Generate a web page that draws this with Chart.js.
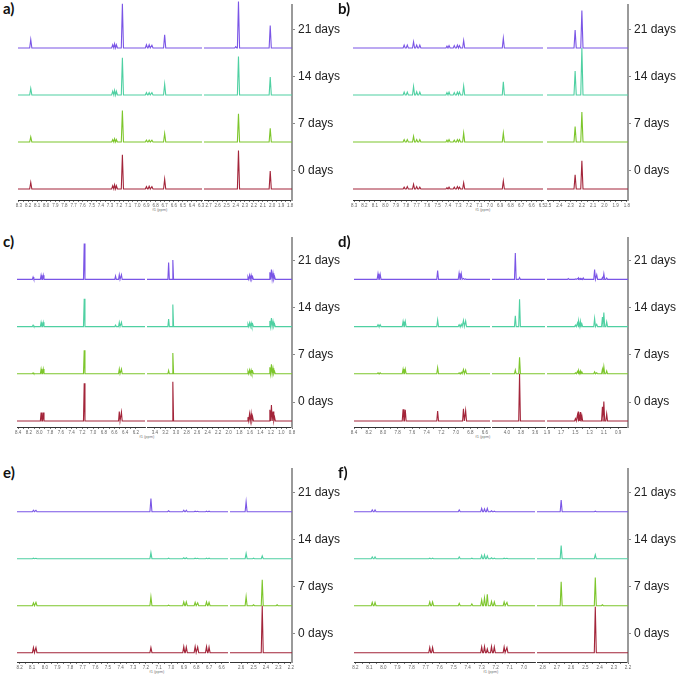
<!DOCTYPE html>
<html>
<head>
<meta charset="utf-8">
<script src="https://cdn.jsdelivr.net/npm/chart.js@4.4.1/dist/chart.umd.min.js"></script>
<style>
  body { margin: 0; background: #fff; width: 676px; height: 677px; position: relative; overflow: hidden; font-family: 'Liberation Sans', Arial, sans-serif; }
  canvas { position: absolute; }
  .lbl { position: absolute; font: bold 15px Lato, 'Open Sans', sans-serif; color: #111; }
  .f1 { position: absolute; font-size: 4px; color: #777; transform: translateX(-50%); white-space: nowrap; }
</style>
</head>
<body>
<script>
// series names, bottom trace first
const days = ['0 days', '7 days', '14 days', '21 days'];

// a) peak positions (ppm) and peak heights per sample, in units of trace spacing
const aPeaks = [8.17, 7.27, 7.25, 7.23, 7.164, 6.90, 6.87, 6.84, 6.70, 2.40, 2.37, 2.02];
const aDay0  = [0.14, 0.07, 0.09, 0.07, 0.73, 0.05, 0.06, 0.05, 0.21, 0.00, 0.82, 0.38];
const aDay7  = [0.11, 0.05, 0.07, 0.05, 0.67, 0.04, 0.04, 0.04, 0.18, 0.00, 0.60, 0.29];
const aDay14 = [0.14, 0.08, 0.10, 0.08, 0.79, 0.05, 0.05, 0.05, 0.23, 0.00, 0.82, 0.38];
const aDay21 = [0.18, 0.07, 0.09, 0.07, 0.94, 0.07, 0.07, 0.06, 0.28, 0.03, 0.99, 0.48];

// b)
const bPeaks = [7.82, 7.79, 7.73, 7.70, 7.67, 7.41, 7.39, 7.34, 7.31, 7.29, 7.25, 6.87, 2.26, 2.20];
const bDay0  = [0.04, 0.05, 0.10, 0.05, 0.04, 0.03, 0.04, 0.04, 0.05, 0.04, 0.13, 0.17, 0.30, 0.60];
const bDay7  = [0.05, 0.05, 0.12, 0.05, 0.05, 0.04, 0.05, 0.04, 0.05, 0.05, 0.19, 0.19, 0.33, 0.64];
const bDay14 = [0.06, 0.06, 0.18, 0.07, 0.06, 0.05, 0.06, 0.05, 0.06, 0.06, 0.19, 0.28, 0.51, 1.00];
const bDay21 = [0.06, 0.06, 0.13, 0.06, 0.06, 0.04, 0.05, 0.05, 0.06, 0.05, 0.16, 0.21, 0.38, 0.80];

// c)
const cPeaks = [8.12, 7.97, 7.93, 7.165, 6.58, 6.51, 6.47, 3.14, 3.06, 1.635, 1.605, 1.575, 1.545, 1.22, 1.19, 1.16, 1.13];
const cDay0  = [0.00, 0.18, 0.18, 0.80, 0.00, 0.20, 0.19, 0.00, 0.83, 0.08, 0.15, 0.16, 0.08, 0.24, 0.34, 0.20, 0.08];
const cDay7  = [0.02, 0.10, 0.10, 0.50, 0.00, 0.10, 0.10, 0.07, 0.44, 0.05, 0.08, 0.08, 0.05, 0.14, 0.20, 0.12, 0.05];
const cDay14 = [0.03, 0.09, 0.09, 0.59, 0.03, 0.09, 0.09, 0.16, 0.47, 0.05, 0.08, 0.08, 0.05, 0.12, 0.18, 0.11, 0.05];
const cDay21 = [0.05, 0.09, 0.09, 0.76, 0.07, 0.10, 0.10, 0.36, 0.41, 0.05, 0.09, 0.09, 0.05, 0.15, 0.21, 0.13, 0.06];

// d)
const dPeaks = [8.07, 8.04, 7.725, 7.695, 7.25, 6.955, 6.925, 6.895, 6.865, 3.88, 3.82, 1.60, 1.50, 1.47, 1.45, 1.43, 1.41, 1.39, 1.23, 1.20, 1.12, 1.10, 1.06];
const dDay0  = [0.00, 0.00, 0.25, 0.24, 0.21, 0.00, 0.00, 0.26, 0.22, 0.00, 1.00, 0.00, 0.05, 0.14, 0.20, 0.19, 0.12, 0.00, 0.00, 0.00, 0.30, 0.41, 0.15];
const dDay7  = [0.02, 0.02, 0.10, 0.10, 0.13, 0.02, 0.03, 0.09, 0.08, 0.08, 0.35, 0.00, 0.02, 0.05, 0.07, 0.06, 0.04, 0.00, 0.04, 0.02, 0.10, 0.15, 0.06];
const dDay14 = [0.04, 0.04, 0.11, 0.11, 0.14, 0.04, 0.05, 0.13, 0.12, 0.23, 0.58, 0.00, 0.03, 0.08, 0.12, 0.11, 0.06, 0.00, 0.17, 0.05, 0.20, 0.30, 0.10];
const dDay21 = [0.12, 0.11, 0.00, 0.00, 0.19, 0.13, 0.12, 0.02, 0.01, 0.56, 0.04, 0.02, 0.01, 0.02, 0.03, 0.02, 0.02, 0.03, 0.21, 0.10, 0.04, 0.12, 0.03];

// e)
const ePeaks = [8.09, 8.07, 7.16, 7.02, 6.90, 6.88, 6.81, 6.79, 6.72, 6.70, 2.56, 2.50, 2.43, 2.31];
const eDay0  = [0.11, 0.11, 0.11, 0.00, 0.13, 0.12, 0.13, 0.12, 0.13, 0.12, 0.00, 0.00, 1.00, 0.00];
const eDay7  = [0.06, 0.07, 0.19, 0.01, 0.08, 0.08, 0.07, 0.06, 0.08, 0.07, 0.19, 0.02, 0.55, 0.02];
const eDay14 = [0.01, 0.01, 0.13, 0.01, 0.02, 0.02, 0.01, 0.01, 0.01, 0.01, 0.11, 0.01, 0.06, 0.00];
const eDay21 = [0.03, 0.03, 0.28, 0.02, 0.03, 0.03, 0.01, 0.01, 0.01, 0.01, 0.21, 0.00, 0.00, 0.00];

// f)
const fPeaks = [8.08, 8.06, 7.67, 7.65, 7.46, 7.37, 7.30, 7.28, 7.26, 7.23, 7.21, 7.14, 7.12, 2.67, 2.43, 2.38];
const fDay0  = [0.00, 0.00, 0.11, 0.11, 0.00, 0.00, 0.12, 0.13, 0.08, 0.13, 0.12, 0.12, 0.11, 0.00, 0.98, 0.00];
const fDay7  = [0.07, 0.07, 0.08, 0.08, 0.05, 0.04, 0.12, 0.17, 0.24, 0.09, 0.08, 0.08, 0.07, 0.51, 0.60, 0.02];
const fDay14 = [0.04, 0.04, 0.01, 0.01, 0.04, 0.01, 0.07, 0.08, 0.06, 0.02, 0.01, 0.01, 0.01, 0.28, 0.085, 0.00];
const fDay21 = [0.04, 0.04, 0.00, 0.00, 0.04, 0.00, 0.07, 0.06, 0.07, 0.02, 0.01, 0.00, 0.00, 0.25, 0.01, 0.00];

// tick labels of every axis piece (ppm)
const aTicks1 = [8.3, 8.2, 8.1, 8.0, 7.9, 7.8, 7.7, 7.6, 7.5, 7.4, 7.3, 7.2, 7.1, 7.0, 6.9, 6.8, 6.7, 6.6, 6.5, 6.4, 6.3];
const aTicks2 = [2.7, 2.6, 2.5, 2.4, 2.3, 2.2, 2.1, 2.0, 1.9, 1.8];
const bTicks1 = [8.3, 8.2, 8.1, 8.0, 7.9, 7.8, 7.7, 7.6, 7.5, 7.4, 7.3, 7.2, 7.1, 7.0, 6.9, 6.8, 6.7, 6.6, 6.5];
const bTicks2 = [2.5, 2.4, 2.3, 2.2, 2.1, 2.0, 1.9, 1.8];
const cTicks1 = [8.4, 8.2, 8.0, 7.8, 7.6, 7.4, 7.2, 7.0, 6.8, 6.6, 6.4, 6.2];
const cTicks2 = [3.4, 3.2, 3.0, 2.8, 2.6, 2.4, 2.2, 2.0, 1.8, 1.6, 1.4, 1.2, 1.0, 0.8];
const dTicks1 = [8.4, 8.2, 8.0, 7.8, 7.6, 7.4, 7.2, 7.0, 6.8, 6.6];
const dTicks2 = [4.0, 3.8, 3.6];
const dTicks3 = [1.9, 1.7, 1.5, 1.3, 1.1, 0.9];
const eTicks1 = [8.2, 8.1, 8.0, 7.9, 7.8, 7.7, 7.6, 7.5, 7.4, 7.3, 7.2, 7.1, 7.0, 6.9, 6.8, 6.7, 6.6];
const eTicks2 = [2.6, 2.5, 2.4, 2.3, 2.2];
const fTicks1 = [8.2, 8.1, 8.0, 7.9, 7.8, 7.7, 7.6, 7.5, 7.4, 7.3, 7.2, 7.1, 7.0];
const fTicks2 = [2.8, 2.7, 2.6, 2.5, 2.4, 2.3, 2.2];

// ---- styles and layout ----
const colors = ['#a3253a', '#7dc62c', '#4fd0a2', '#7a55e6'];
const dayTickPos = [0.4, 1.4, 2.4, 3.4];

const rows = [
  { T: 5,   B: 200, base: 189,   sp: 47 },
  { T: 238, B: 427, base: 421,   sp: 47.2 },
  { T: 469, B: 662, base: 652.7, sp: 47 }
];

// segment: [left px, right px, ppm at left, ppm at right, ticks]
const panels = [
  { name: 'a)', lx: 3,   row: 0, peaks: aPeaks, series: [aDay0, aDay7, aDay14, aDay21], w: 0.012, f1: 160,
    segs: [[18, 202, 8.31, 6.29, aTicks1], [204, 292, 2.75, 1.78, aTicks2]] },
  { name: 'b)', lx: 338, row: 0, peaks: bPeaks, series: [bDay0, bDay7, bDay14, bDay21], w: 0.01, f1: 483,
    segs: [[353, 543, 8.31, 6.49, bTicks1], [547, 628, 2.51, 1.79, bTicks2]] },
  { name: 'c)', lx: 3,   row: 1, peaks: cPeaks, series: [cDay0, cDay7, cDay14, cDay21], w: 0.014, f1: 147,
    segs: [[17, 145, 8.42, 6.03, cTicks1], [147, 292, 3.55, 0.80, cTicks2]] },
  { name: 'd)', lx: 338, row: 1, peaks: dPeaks, series: [dDay0, dDay7, dDay14, dDay21], w: 0.012, f1: 483,
    segs: [[354, 490, 8.40, 6.53, dTicks1], [492, 545, 4.21, 3.46, dTicks2], [547, 628, 1.90, 0.76, dTicks3]] },
  { name: 'e)', lx: 3,   row: 2, peaks: ePeaks, series: [eDay0, eDay7, eDay14, eDay21], w: 0.008, f1: 157,
    segs: [[17, 228, 8.22, 6.55, eTicks1], [230, 292, 2.69, 2.19, eTicks2]] },
  { name: 'f)', lx: 338, row: 2, peaks: fPeaks, series: [fDay0, fDay7, fDay14, fDay21], w: 0.007, f1: 491,
    segs: [[354, 535, 8.21, 6.92, fTicks1], [537, 628, 2.84, 2.20, fTicks2]] }
];

const M = 6, P = 8, XH = 12, YW = 52;

function traceData(peaks, heights, offset, w) {
  const idx = peaks.map((p, i) => i).sort((i, j) => peaks[j] - peaks[i]);
  const pts = [{ x: 10, y: offset }];
  idx.forEach(i => {
    if (heights[i] <= 0) return;
    pts.push({ x: peaks[i] + w, y: offset });
    pts.push({ x: peaks[i], y: offset + heights[i] });
    pts.push({ x: peaks[i] - w, y: offset });
  });
  pts.push({ x: -1, y: offset });
  return pts;
}

function tickList(majors) {
  const vals = majors.slice();
  for (let i = 0; i < majors.length - 1; i++) vals.push((majors[i] + majors[i + 1]) / 2);
  return vals.sort((a, b) => a - b).map(v => ({ value: v }));
}

panels.forEach(pn => {
  const r = rows[pn.row];
  const yMax = (r.base - r.T) / r.sp;
  const yMin = -(r.B - r.base) / r.sp;

  const lab = document.createElement('div');
  lab.className = 'lbl';
  lab.textContent = pn.name;
  lab.style.left = pn.lx + 'px';
  lab.style.top = (r.T - 6) + 'px';
  document.body.appendChild(lab);

  const f1 = document.createElement('div');
  f1.className = 'f1';
  f1.textContent = 'f1 (ppm)';
  f1.style.left = pn.f1 + 'px';
  f1.style.top = (r.B + 7) + 'px';
  document.body.appendChild(f1);

  pn.segs.forEach((sg, si) => {
    const last = si === pn.segs.length - 1;
    const [left, right, hi, lo, majors] = sg;
    const cv = document.createElement('canvas');
    const wpx = (right - left) + M + (last ? YW : M);
    const hpx = (r.B - r.T) + P + XH;
    cv.width = wpx; cv.height = hpx;
    cv.style.left = (left - M) + 'px';
    cv.style.top = (r.T - P) + 'px';
    document.body.appendChild(cv);

    const datasets = pn.series.map((h, k) => ({
      label: days[k],
      data: traceData(pn.peaks, h, k, pn.w),
      borderColor: colors[k],
      borderWidth: 1.1,
      pointRadius: 0,
      tension: 0,
      clip: { left: 0, right: 0, top: false, bottom: 0 }
    }));

    new Chart(cv, {
      type: 'line',
      data: { datasets },
      options: {
        responsive: false,
        animation: false,
        events: [],
        layout: { padding: { left: M, right: last ? 0 : M, top: P, bottom: 0 } },
        plugins: { legend: { display: false }, tooltip: { enabled: false } },
        scales: {
          x: {
            type: 'linear', reverse: true, min: lo, max: hi, bounds: 'data',
            afterBuildTicks: s => { s.ticks = tickList(majors); },
            afterFit: s => { s.height = XH; s.paddingLeft = 0; s.paddingRight = 0; },
            grid: { drawOnChartArea: false, drawTicks: true, tickLength: 2, color: '#555', lineWidth: 0.8 },
            border: { color: '#333', width: 1 },
            ticks: {
              autoSkip: false, maxRotation: 0, minRotation: 0, padding: 1,
              font: { size: 4.5, family: 'Liberation Sans' }, color: '#666',
              callback: v => majors.some(m => Math.abs(m - v) < 1e-6) ? v.toFixed(1) : ''
            }
          },
          y: {
            type: 'linear', position: 'right', display: last, min: yMin, max: yMax,
            afterBuildTicks: s => { s.ticks = dayTickPos.map(v => ({ value: v })); },
            afterFit: s => { s.width = last ? YW : 0; s.paddingTop = 0; s.paddingBottom = 0; },
            grid: { drawOnChartArea: false, drawTicks: true, tickLength: 3, color: '#888', lineWidth: 1 },
            border: { color: '#9a9a9a', width: 2 },
            ticks: {
              padding: 3, font: { size: 12, family: 'Liberation Sans' }, color: '#222',
              callback: (v, i) => days[i]
            }
          }
        }
      }
    });
  });
});
</script>
</body>
</html>
